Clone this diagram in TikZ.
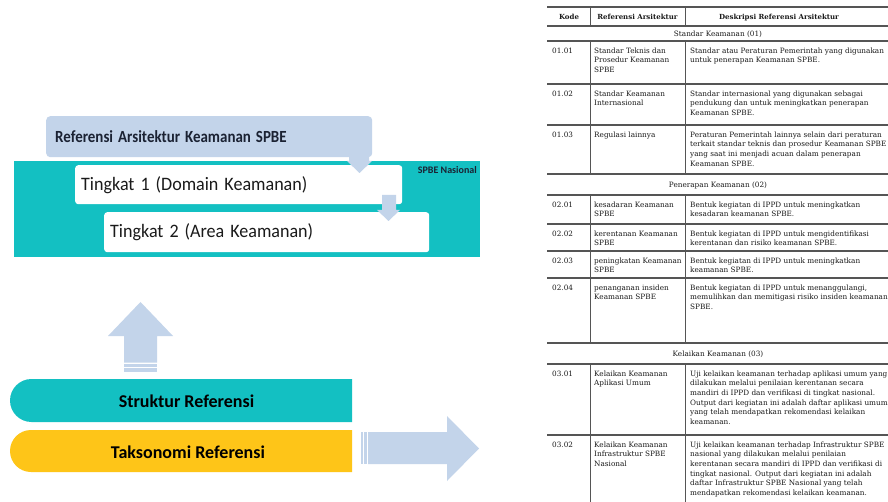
\documentclass[tikz,border=0pt]{standalone}
\usepackage{fontspec}
\usepackage{graphicx}
\setmainfont{DejaVu Serif}
\newfontfamily\calib{Carlito}
\newfontfamily\tabfont{DejaVu Serif}

\definecolor{tealbg}{HTML}{13C0C2}
\definecolor{paleblue}{HTML}{C3D4EA}
\definecolor{goldbar}{HTML}{FEC518}
\definecolor{rulegray}{HTML}{555555}
\definecolor{ink}{HTML}{1A1A1A}
\definecolor{navyink}{HTML}{1B2233}

% one data row of the reference table: name, top edge, code, reference, description
\newcommand\tabrow[5]{%
  \node[cell] (#1k) at (552,#2+5.2) {\strut #3};
  \node[cell] (#1r) at (594,#2+5.2) {\strut #4};
  \node[cell] (#1d) at (690,#2+5.2) {\strut #5};
}

\begin{document}
\begin{tikzpicture}[x=1pt,y=-1pt,
  cell/.style={anchor=north west, inner sep=0pt, align=left,
    font=\tabfont\fontsize{7.3}{9.7}\selectfont, text=ink},
  sectitle/.style={anchor=base, inner sep=0pt,
    font=\tabfont\fontsize{7.3}{9.7}\selectfont, text=ink},
  headtxt/.style={anchor=base, inner sep=0pt,
    font=\tabfont\bfseries\fontsize{7}{9.7}\selectfont, text=ink},
  hrule/.style={draw=rulegray, line width=1.3pt},
  vrule/.style={draw=rulegray, line width=0.9pt},
  whitebox/.style={fill=white, rounded corners=3pt, anchor=north west,
    inner xsep=6pt, inner ysep=0pt, align=left, text=ink,
    font=\calib\fontsize{19}{22}\selectfont},
  bartxt/.style={font=\calib\bfseries\fontsize{18}{22}\selectfont, text=black, inner sep=0pt},
]
\useasboundingbox (0,0) rectangle (888,502);
\fill[white] (0,0) rectangle (888,502);

% ---------- structure of the reference architecture ----------
\fill[tealbg] (14,161) rectangle (480,257);
\node[fill=paleblue, rounded corners=4pt, anchor=north west, minimum width=326pt,
  minimum height=41pt, text width=308pt, inner xsep=9pt, inner ysep=0pt, align=left,
  text=navyink, font=\calib\bfseries\fontsize{17}{20}\selectfont]
  (ref) at (46,116) {\scalebox{0.88}[1]{Referensi Arsitektur Keamanan SPBE}};
\node[anchor=east, inner sep=0pt, text=navyink,
  font=\calib\bfseries\fontsize{10}{12}\selectfont] (nas) at (477,170) {SPBE Nasional};
\node[whitebox, minimum width=327pt, minimum height=39pt, text width=315pt]
  (t1) at (75,165) {\scalebox{0.95}[1]{Tingkat 1 (Domain Keamanan)}};
\node[whitebox, minimum width=325pt, minimum height=40pt, text width=313pt]
  (t2) at (104,212) {\scalebox{0.95}[1]{Tingkat 2 (Area Keamanan)}};
% bent-down pointers between the levels
\fill[paleblue] (349,150) -- (369,150) -- (369,161) -- (372,161) -- (359.5,173)
  -- (347,161) -- (349,161) -- cycle;
\fill[paleblue] (382,195) -- (396,195) -- (396,210) -- (400,210) -- (388.5,221)
  -- (377,210) -- (382,210) -- cycle;

% ---------- striped up arrow ----------
\fill[paleblue] (124,362.5) -- (124,336) -- (108,336) -- (140.5,302) -- (173,336)
  -- (157,336) -- (157,362.5) -- cycle;
\fill[paleblue] (124,363.7) rectangle (157,367.2);
\fill[paleblue] (124,368.3) rectangle (157,372);

% ---------- the two bars, rounded on the left ----------
\fill[tealbg] (352,379) -- (31.5,379) arc[start angle=90, end angle=270, radius=21.5pt]
  -- (352,422) -- cycle;
\node[bartxt] (struktxt) at (186.5,401) {Struktur Referensi};
\fill[goldbar] (352,430) -- (31,430) arc[start angle=90, end angle=270, radius=21pt]
  -- (352,472) -- cycle;
\node[bartxt] (taksotxt) at (188,452) {Taksonomi Referensi};

% ---------- striped right arrow ----------
\fill[paleblue] (368,432) -- (447,432) -- (447,416) -- (479,448.5) -- (447,481)
  -- (447,464) -- (368,464) -- cycle;
\fill[paleblue] (361,432) rectangle (363,464);
\fill[paleblue] (364.2,432) rectangle (366.8,464);

% ---------- reference table ----------
\begin{scope}
\clip (540,0) rectangle (888,502);
\foreach \yy in {7,26,41,84,125,174,195,224,251,278,343,364,435}
  \draw[hrule] (547,\yy) -- (895,\yy);
\foreach \xx in {590,685} {
  \draw[vrule] (\xx,7) -- (\xx,26);
  \draw[vrule] (\xx,41) -- (\xx,174);
  \draw[vrule] (\xx,195) -- (\xx,343);
  \draw[vrule] (\xx,364) -- (\xx,505);
}
\node[headtxt] (hk) at (569,19.2) {Kode};
\node[headtxt] (hr) at (637.5,19.2) {Referensi Arsitektur};
\node[headtxt] (hd) at (779,19.2) {Deskripsi Referensi Arsitektur};

\node[sectitle] (s1) at (718,36.2) {Standar Keamanan (01)};
\tabrow{r11}{41}{01.01}{Standar Teknis dan\\Prosedur Keamanan\\SPBE}
  {Standar atau Peraturan Pemerintah yang digunakan\\untuk penerapan Keamanan SPBE.}
\tabrow{r12}{84}{01.02}{Standar Keamanan\\Internasional}
  {Standar internasional yang digunakan sebagai\\pendukung dan untuk meningkatkan penerapan\\Keamanan SPBE.}
\tabrow{r13}{125}{01.03}{Regulasi lainnya}
  {Peraturan Pemerintah lainnya selain dari peraturan\\terkait standar teknis dan prosedur Keamanan SPBE\\yang saat ini menjadi acuan dalam penerapan\\Keamanan SPBE.}

\node[sectitle] (s2) at (718,187.2) {Penerapan Keamanan (02)};
\tabrow{r21}{195}{02.01}{kesadaran Keamanan\\SPBE}
  {Bentuk kegiatan di IPPD untuk meningkatkan\\kesadaran keamanan SPBE.}
\tabrow{r22}{224}{02.02}{kerentanan Keamanan\\SPBE}
  {Bentuk kegiatan di IPPD untuk mengidentifikasi\\kerentanan dan risiko keamanan SPBE.}
\tabrow{r23}{251}{02.03}{peningkatan Keamanan\\SPBE}
  {Bentuk kegiatan di IPPD untuk meningkatkan\\keamanan SPBE.}
\tabrow{r24}{278}{02.04}{penanganan insiden\\Keamanan SPBE}
  {Bentuk kegiatan di IPPD untuk menanggulangi,\\memulihkan dan memitigasi risiko insiden keamanan\\SPBE.}

\node[sectitle] (s3) at (718,356.2) {Kelaikan Keamanan (03)};
\tabrow{r31}{364}{03.01}{Kelaikan Keamanan\\Aplikasi Umum}
  {Uji kelaikan keamanan terhadap aplikasi umum yang\\dilakukan melalui penilaian kerentanan secara\\mandiri di IPPD dan verifikasi di tingkat nasional.\\Output dari kegiatan ini adalah daftar aplikasi umum\\yang telah mendapatkan rekomendasi kelaikan\\keamanan.}
\tabrow{r32}{435}{03.02}{Kelaikan Keamanan\\Infrastruktur SPBE\\Nasional}
  {Uji kelaikan keamanan terhadap Infrastruktur SPBE\\nasional yang dilakukan melalui penilaian\\kerentanan secara mandiri di IPPD dan verifikasi di\\tingkat nasional. Output dari kegiatan ini adalah\\daftar Infrastruktur SPBE Nasional yang telah\\mendapatkan rekomendasi kelaikan keamanan.}
\end{scope}
\end{tikzpicture}
\end{document}
